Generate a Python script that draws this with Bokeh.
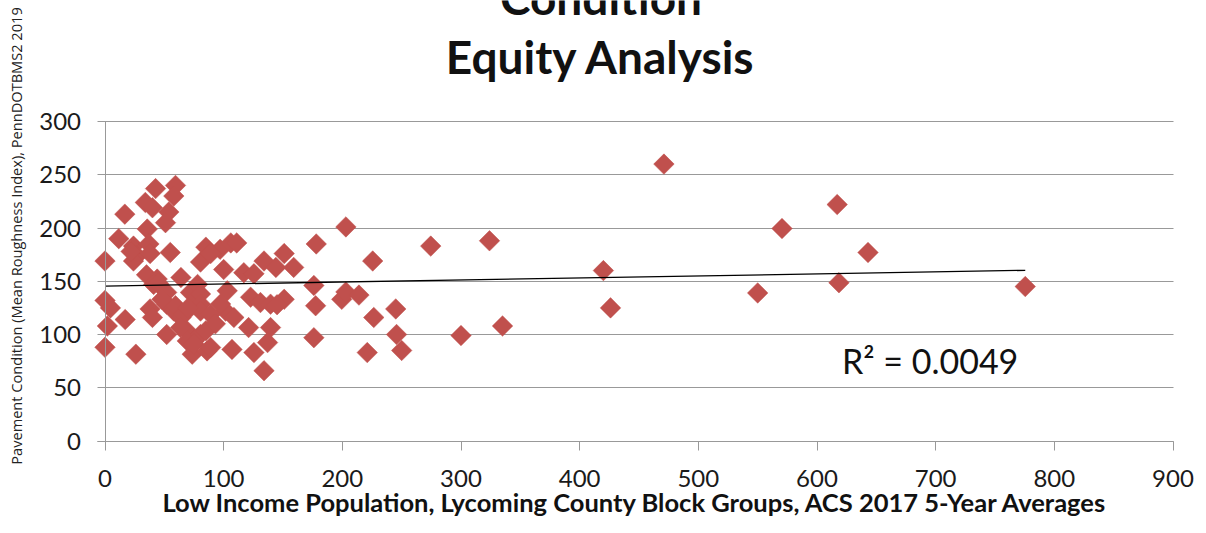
import numpy as np
from bokeh.plotting import figure
from bokeh.models import Range1d, FixedTicker, Label, ColumnDataSource
from bokeh.embed import file_html
from bokeh.resources import INLINE

# ---- data ----
low_income = [
    0, 0, 4.6, 2, 0,
    16.7, 11.6, 24, 27, 24, 17, 26, 22,
    34, 40, 42.6, 35.6, 37, 38, 35, 44, 41, 38, 40, 45,
    59.4, 58, 53.8, 51, 55, 52, 52, 58, 59.4, 52, 48,
    64, 72, 78, 64, 66.4, 69, 63.7, 75, 69.3, 77.7, 73.5, 80.5, 80.5, 80.5, 80.5, 80.5, 75, 70,
    85, 97, 89, 106, 111, 100, 103, 101.6, 108.6, 97.4, 89, 86, 85, 89, 107, 93,
    117, 125.5, 134, 144, 151, 159, 122.7, 131, 139.5, 151, 121, 139.5, 137, 125.5, 134, 145,
    178, 176, 177.5, 176, 203, 199.5, 203, 214, 225.6, 226.5, 221, 245, 245.7, 250,
    274.5, 300, 324, 335, 420, 426, 471, 550, 570.5, 617, 618.5, 643, 775.5,
]
pavement = [
    169, 132, 125, 108, 88,
    213, 190, 183, 174, 169, 114, 81.5, 178,
    224, 219, 237, 199, 185, 176, 156, 152, 147, 124, 116, 148,
    240, 230, 215, 205, 177, 139.5, 128.5, 122, 127, 100, 133,
    153.5, 139.5, 147, 116, 119, 103.5, 106.5, 94, 94, 128.6, 81.5, 168, 138, 128.5, 122, 100, 91, 125,
    182, 180, 176, 186, 186, 161, 141, 122, 116, 128.6, 119, 84.6, 103.5, 87.8, 86, 110,
    158, 157, 169, 163, 176, 163, 135, 130, 128.5, 133, 106.5, 106.5, 92.4, 83, 66, 128,
    185, 146, 127, 97, 201, 133, 140, 137, 169, 116, 83, 124, 100, 85,
    183, 99, 188, 108, 160, 125, 260, 139, 199.5, 222, 148.6, 177, 145,
]
trend_intercept = 145.5
trend_slope = 0.019
r_squared = "0.0049"
x_ticks = [0, 100, 200, 300, 400, 500, 600, 700, 800, 900]
y_ticks = [0, 50, 100, 150, 200, 250, 300]

title_lines = ["Condition", "Equity Analysis"]
x_title = "Low Income Population, Lycoming County Block Groups, ACS 2017 5-Year Averages"
y_title = "Pavement Condition (Mean Roughness Index), PennDOTBMS2 2019"

GRID = "#999999"
RED = "#C0504D"
INK = "#111111"

# ---- layout: the frame fills the canvas; axes are pinned at x=0 / y=0 ----
W, H = 1198, 517
X0_PX, X900_PX = 104.5, 1172.5     # canvas px of x=0 and x=900
Y0_PX, Y300_PX = 440.5, 121.0      # canvas px (from top) of y=0 and y=300
sx = (X900_PX - X0_PX) / 900.0
sy = (Y0_PX - Y300_PX) / 300.0
x_range = Range1d(-X0_PX / sx, (W - X0_PX) / sx)
y_range = Range1d(-(H - Y0_PX) / sy, Y0_PX / sy)

p = figure(width=W, height=H, x_range=x_range, y_range=y_range,
           output_backend="svg", toolbar_location=None,
           min_border=0, min_border_left=0, min_border_right=0,
           min_border_top=0, min_border_bottom=0)
p.outline_line_color = None
p.background_fill_color = "white"
p.border_fill_color = "white"

p.xgrid.visible = False
yg = p.ygrid[0]
yg.ticker = FixedTicker(ticks=y_ticks)
yg.grid_line_color = GRID
yg.grid_line_width = 1
yg.bounds = (0, 300)
if "cross_bounds" in yg.properties():
    yg.cross_bounds = (-6, 900)
else:
    yg.visible = False
    p.segment(x0=-6, x1=900, y0=y_ticks, y1=y_ticks, line_color=GRID, line_width=1)

p.xaxis.ticker = FixedTicker(ticks=x_ticks)
p.yaxis.ticker = FixedTicker(ticks=y_ticks)
for ax in (p.xaxis, p.yaxis):
    ax.axis_line_color = GRID
    ax.major_tick_line_color = GRID
    ax.minor_tick_line_color = None
    ax.major_label_text_font = "Lato"
    ax.major_label_text_font_size = "24px"
    ax.major_label_text_color = "#1a1a1a"
p.yaxis.fixed_location = 0
p.yaxis.bounds = (0, 300)
p.yaxis.major_tick_in = 0
p.yaxis.major_tick_out = 0
p.yaxis.major_label_standoff = 24
p.xaxis.fixed_location = 0
p.xaxis.bounds = (-6, 900)
p.xaxis.major_tick_in = 0
p.xaxis.major_tick_out = 9
p.xaxis.major_label_standoff = 20
p.xaxis.axis_label = x_title
p.xaxis.axis_label_text_font = "Lato"
p.xaxis.axis_label_text_font_style = "bold"
p.xaxis.axis_label_text_font_size = "25.5px"
p.xaxis.axis_label_text_color = INK
p.xaxis.axis_label_standoff = -4

src = ColumnDataSource(dict(x=low_income, y=pavement))
p.scatter("x", "y", source=src, marker="square", size=14.5, angle=np.pi / 4,
          fill_color=RED, line_color=RED, line_width=0.5)

tx = np.array([min(low_income), max(low_income)])
p.line(tx, trend_intercept + trend_slope * tx, line_color="black", line_width=1.3)

p.add_layout(Label(x=621, y=55.9, text="R² = " + r_squared, text_font="Lato",
                   text_font_size="34px", text_baseline="bottom", text_color=INK))

p.add_layout(Label(x=418, y=390.3, text=title_lines[0], text_font="Lato",
                   text_font_style="bold", text_font_size="46px", text_align="center",
                   text_baseline="bottom", text_color=INK))
p.add_layout(Label(x=418, y=334.9, text=title_lines[1], text_font="Lato",
                   text_font_style="bold", text_font_size="46px", text_align="center",
                   text_baseline="bottom", text_color=INK))
p.add_layout(Label(x=-74.6, y=192.5, text=y_title, angle=np.pi / 2, text_font="Open Sans",
                   text_font_size="14.6px", text_align="center", text_baseline="middle",
                   text_color="#222222"))

open("out.html", "w").write(file_html(p, INLINE))
